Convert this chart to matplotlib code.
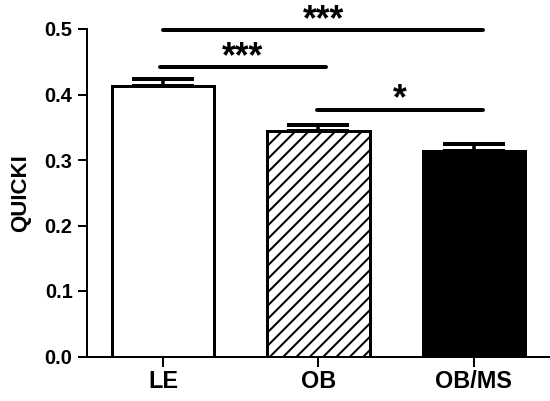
import matplotlib
matplotlib.use("Agg")
import matplotlib.pyplot as plt

categories = ["LE", "OB", "OB/MS"]
means = [0.413, 0.345, 0.313]
sems = [0.010, 0.009, 0.011]
yticks = [0.0, 0.1, 0.2, 0.3, 0.4, 0.5]
ytick_labels = ["0.0", "0.1", "0.2", "0.3", "0.4", "0.5"]
ylabel = "QUICKI"
# significance brackets: (x start, x end, y, label)
sig_x0 = [0.0, -0.02, 0.99]
sig_x1 = [2.06, 1.05, 2.06]
sig_y = [0.498, 0.442, 0.377]
sig_labels = ["***", "***", "*"]

DPI = 80
plt.rcParams['font.family'] = ['Liberation Sans', 'DejaVu Sans']
plt.rcParams['font.weight'] = 'bold'
plt.rcParams['hatch.linewidth'] = 1.8

fig = plt.figure(figsize=(550 / DPI, 401 / DPI), dpi=DPI)
ax = fig.add_axes([87 / 550, (401 - 356.5) / 401, 1 - 87 / 550, (356.5 - 29) / 401])

x = list(range(len(categories)))
faces = ["white", "white", "black"]
hatches = ["", "//", ""]
bars = ax.bar(x, means, width=0.66, color=faces, edgecolor="black",
              linewidth=2.7, hatch=hatches, zorder=2)
ax.errorbar(x, means, yerr=[[0] * len(sems), sems], fmt="none", ecolor="black",
            elinewidth=3.2, capsize=28, capthick=3.6, zorder=3)

for x0, x1, y, lab in zip(sig_x0, sig_x1, sig_y, sig_labels):
    ax.plot([x0, x1], [y, y], color="black", lw=3.6, solid_capstyle="round",
            clip_on=False, zorder=4)
    ax.text((x0 + x1) / 2, y - 0.012, lab, ha="center", va="bottom",
            fontsize=32, fontweight="bold", clip_on=False)

ax.set_xlim(-0.489, 2.49)
ax.set_ylim(0, 0.5)
ax.set_yticks(yticks)
ax.set_yticklabels(ytick_labels)
ax.set_xticks(x)
ax.set_xticklabels(categories)
ax.set_ylabel(ylabel, fontsize=20, fontweight="bold", labelpad=12)

for s in ["top", "right"]:
    ax.spines[s].set_visible(False)
for s in ["left", "bottom"]:
    ax.spines[s].set_linewidth(1.8)
ax.tick_params(axis="y", direction="out", length=8, width=1.8, labelsize=18, pad=5)
ax.tick_params(axis="x", direction="out", length=9, width=1.8, labelsize=21, pad=3)
for lab in ax.get_xticklabels() + ax.get_yticklabels():
    lab.set_fontweight("bold")

fig.savefig("out.png", dpi=DPI)
